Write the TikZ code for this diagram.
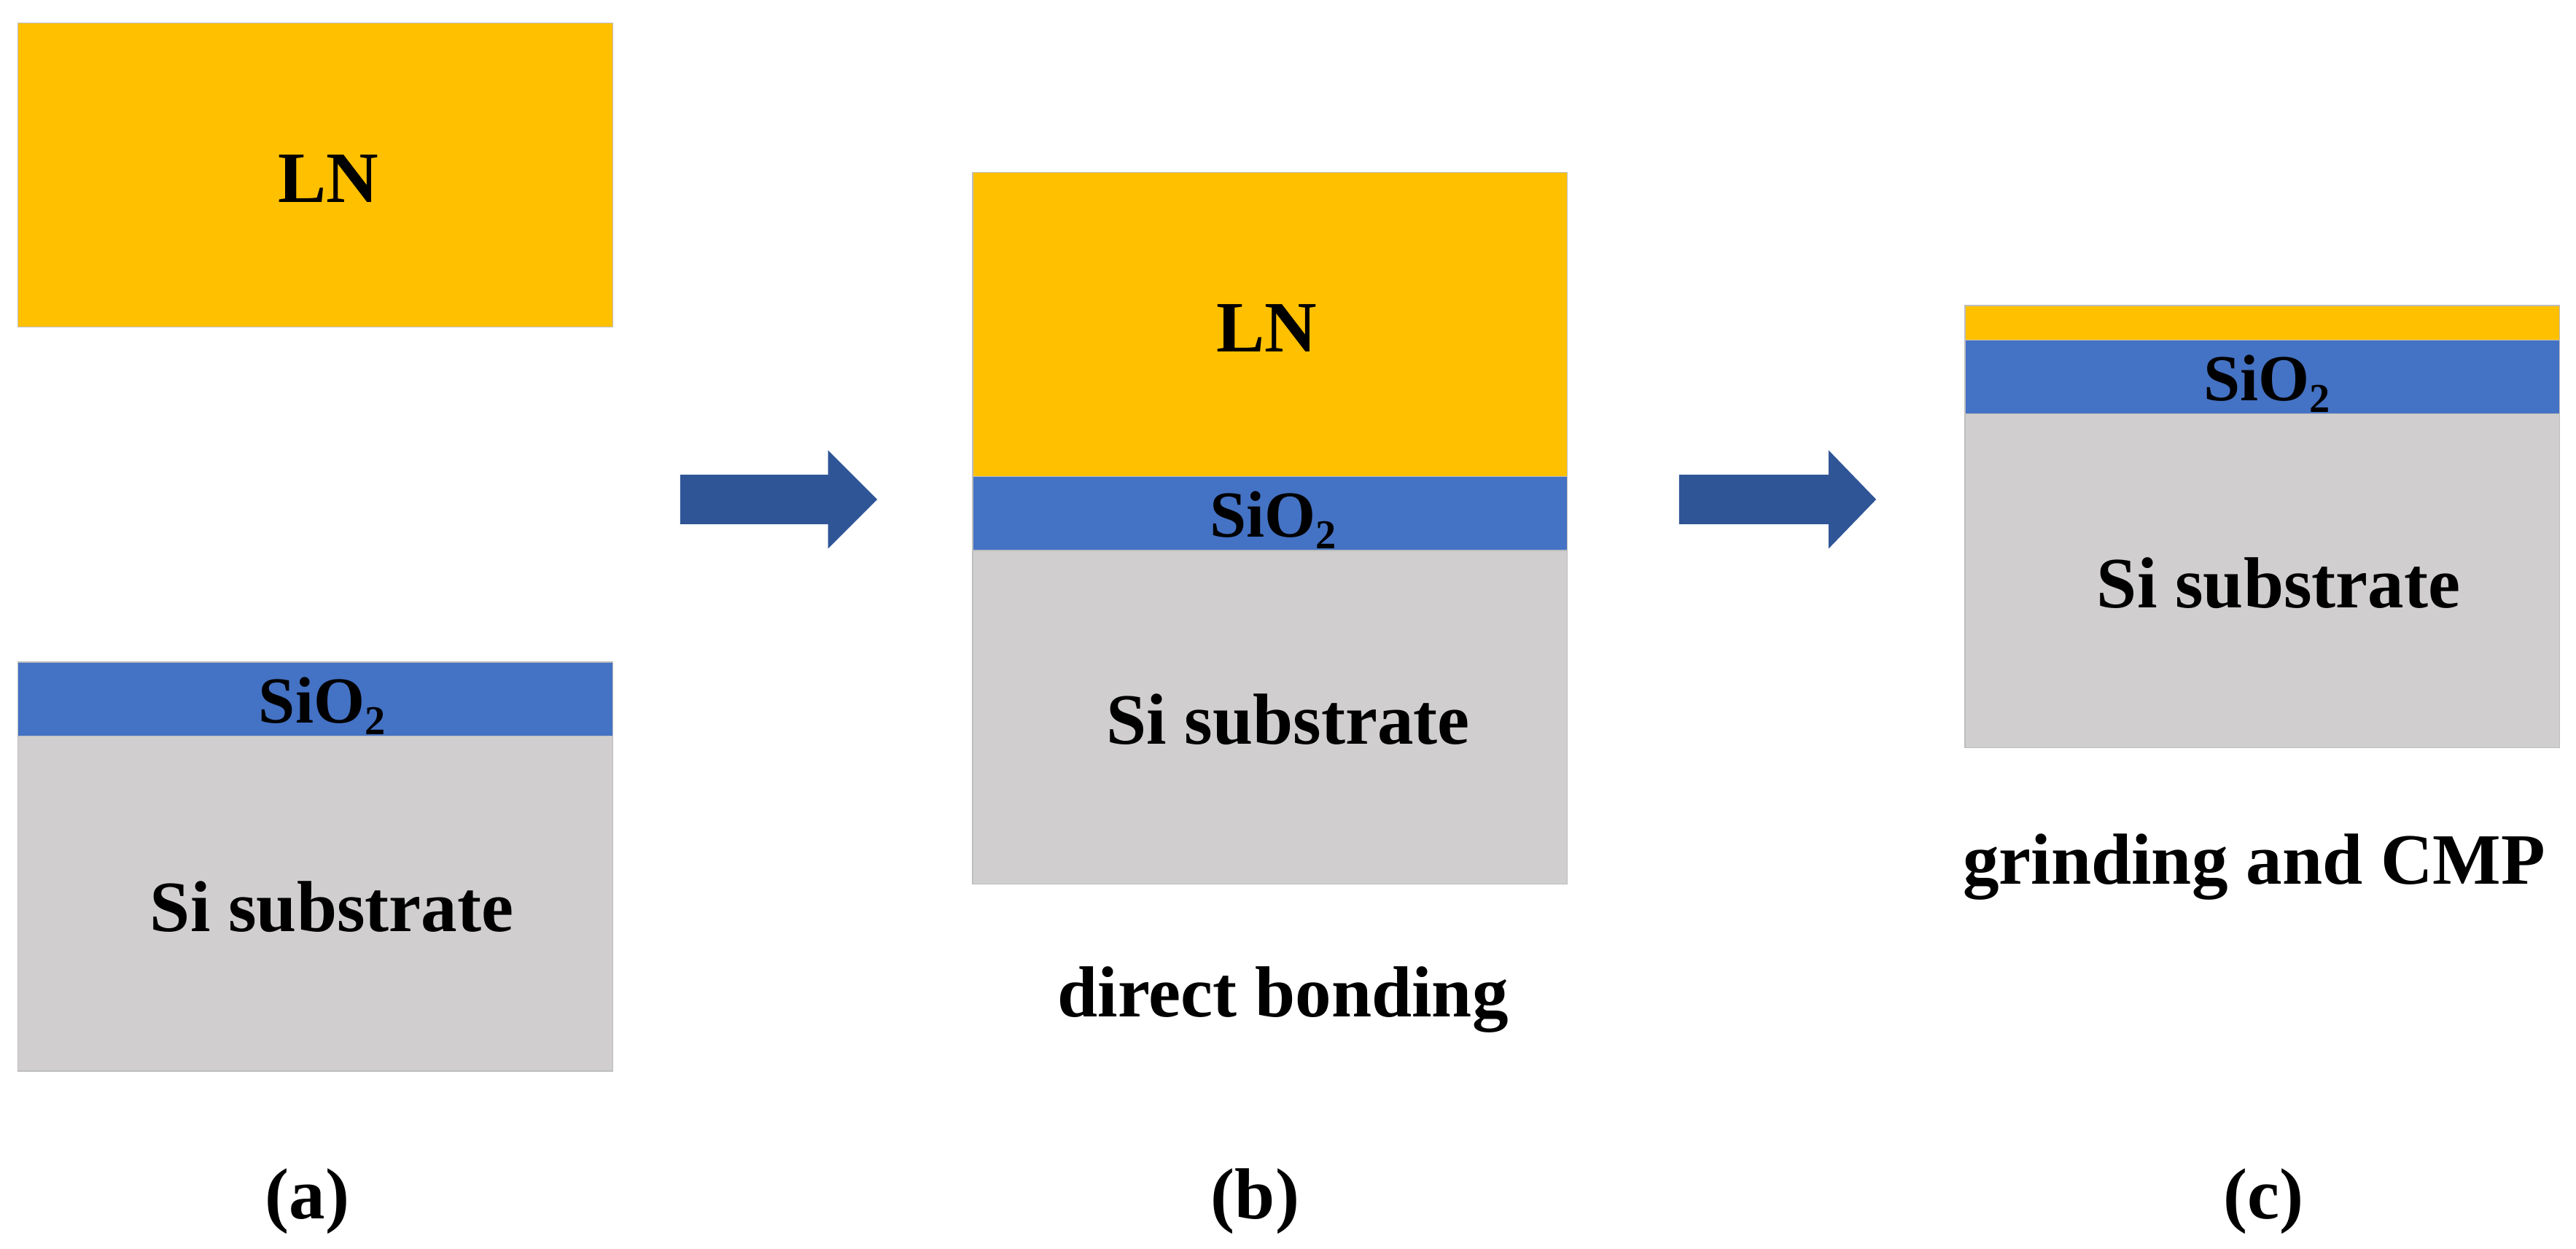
\documentclass[tikz,border=0pt]{standalone}
\usepackage{fontspec}
\setmainfont{Liberation Serif}
\begin{document}
\begin{tikzpicture}[x=1pt,y=-1pt,
  ln/.style={fill={rgb,255:red,255;green,192;blue,0},draw={rgb,255:red,190;green,190;blue,190},line width=0.6pt},
  ox/.style={fill={rgb,255:red,68;green,114;blue,196},draw={rgb,255:red,190;green,190;blue,190},line width=0.6pt},
  si/.style={fill={rgb,255:red,208;green,206;blue,206},draw={rgb,255:red,190;green,190;blue,190},line width=0.6pt},
  big/.style={font=\fontsize{44}{48}\selectfont\bfseries,anchor=base,inner sep=0pt},
  small/.style={font=\fontsize{40}{44}\selectfont\bfseries,anchor=base,inner sep=0pt},
  arr/.style={fill={rgb,255:red,47;green,85;blue,151}}]
\useasboundingbox (0,0) rectangle (1568,760);
\newcommand\oxtxt{SiO\raisebox{-7pt}{\fontsize{25}{25}\selectfont 2}}
% (a)
\draw[ln] (11,14) rectangle (373,199);
\draw[si] (11,448) rectangle (373,652);
\draw[ox] (11,403) rectangle (373,448);
\node[big] (lna) at (200,123) {LN};
\node[small] (oxa) at (196,440) {\oxtxt};
\node[big] (sia) at (202,567) {Si substrate};
\node[big] (la) at (187,742) {(a)};
% arrow 1
\fill[arr] (414,289) -- (504,289) -- (504,274) -- (534,304) -- (504,334) -- (504,319) -- (414,319) -- cycle;
% (b)
\draw[ln] (592,105) rectangle (954,290);
\draw[si] (592,335) rectangle (954,538);
\draw[ox] (592,290) rectangle (954,335);
\node[big] (lnb) at (771,214) {LN};
\node[small] (oxb) at (775,327) {\oxtxt};
\node[big] (sib) at (784,453) {Si substrate};
\node[big] (db) at (781,619) {direct bonding};
\node[big] (lb) at (764,742) {(b)};
% arrow 2
\fill[arr] (1022,289) -- (1113,289) -- (1113,274) -- (1142,304) -- (1113,334) -- (1113,319) -- (1022,319) -- cycle;
% (c)
\draw[ln] (1196,186) rectangle (1558,207);
\draw[si] (1196,252) rectangle (1558,455);
\draw[ox] (1196,207) rectangle (1558,252);
\node[small] (oxc) at (1380,244) {\oxtxt};
\node[big] (sic) at (1387,370) {Si substrate};
\node[big] (gc) at (1372,538) {grinding and CMP};
\node[big] (lc) at (1378,742) {(c)};
\end{tikzpicture}
\end{document}
